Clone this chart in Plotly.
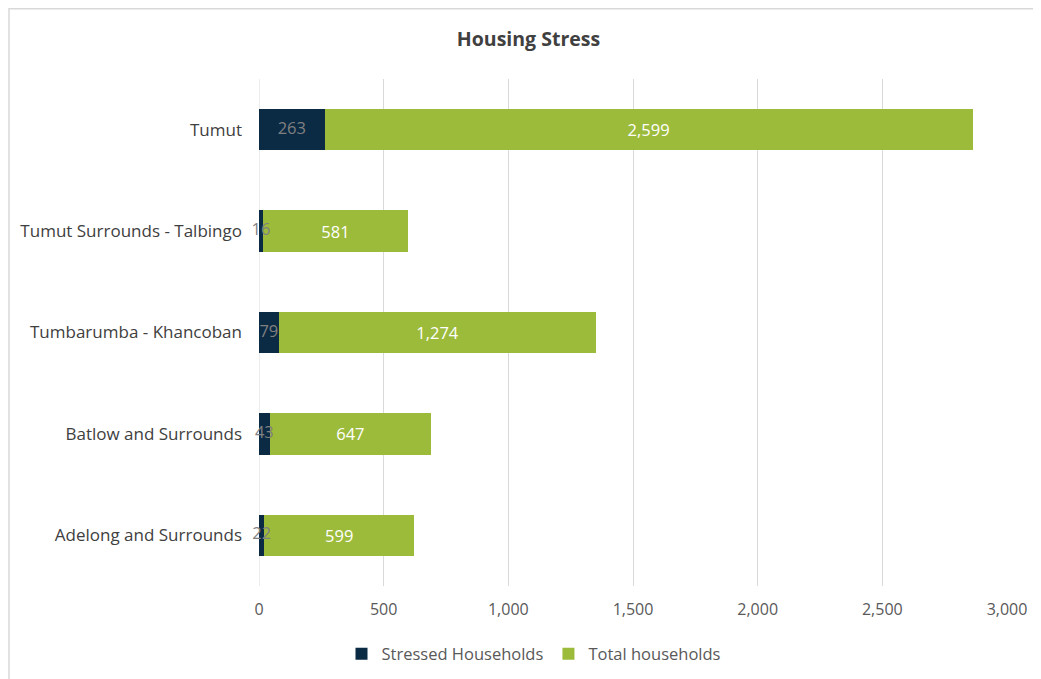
import plotly.graph_objects as go

# Data
areas = ["Tumut", "Tumut Surrounds - Talbingo", "Tumbarumba - Khancoban",
         "Batlow and Surrounds", "Adelong and Surrounds"]
stressed = [263, 16, 79, 43, 22]
total = [2599, 581, 1274, 647, 599]
x_ticks = [0, 500, 1000, 1500, 2000, 2500, 3000]

navy = "#0b2a44"
green = "#9cbb3b"
font = "Open Sans"

fig = go.Figure()
fig.add_trace(go.Bar(
    y=areas, x=stressed, orientation="h", name="Stressed Households",
    marker=dict(color=navy, line=dict(width=0)),
))
fig.add_trace(go.Bar(
    y=areas, x=total, orientation="h", name="Total households",
    marker=dict(color=green, line=dict(width=0)),
    text=[f"{v:,}" for v in total], textposition="inside",
    insidetextanchor="middle", textfont=dict(color="white", size=16.5, family=font),
))
# labels for the stressed segment, centred on the segment and allowed to overflow
fig.add_trace(go.Scatter(
    y=areas, x=[v / 2 for v in stressed], mode="text",
    text=[f"{v:,}" for v in stressed], textposition="middle center",
    textfont=dict(color="#808080", size=16.5, family=font),
    showlegend=False, hoverinfo="skip", cliponaxis=False,
))

# the page body adds an 8px offset, margins below allow for it
fig.update_layout(
    barmode="stack", bargap=0.59,
    width=1041, height=679,
    margin=dict(l=251, r=42, t=71, b=101),
    paper_bgcolor="white", plot_bgcolor="white",
    font=dict(family=font, color="#595959", size=16),
    title=dict(text="<b>Housing Stress</b>", x=0.5, xanchor="center",
               y=0.954, yanchor="middle",
               font=dict(size=19.5, color="#404040", family=font)),
    legend=dict(orientation="h", x=(534 - 259) / 748, xanchor="center", y=-0.134,
                yanchor="middle", font=dict(size=16.5, color="#595959"),
                traceorder="normal", itemwidth=30),
    xaxis=dict(range=[0, 3000], tickvals=x_ticks, tickformat=",",
               showgrid=True, gridcolor="#d9d9d9", gridwidth=1,
               zeroline=False, showline=False, ticks="", ticklabelstandoff=12,
               tickfont=dict(size=16, color="#595959")),
    yaxis=dict(categoryorder="array", categoryarray=areas, autorange="reversed",
               showgrid=False, zeroline=False, showline=False, ticks="",
               ticklabelstandoff=16, tickfont=dict(size=17, color="#404040")),
    shapes=[dict(type="rect", xref="paper", yref="paper",
                 x0=(9 - 259) / 748, x1=(1060 - 259) / 748,
                 y0=-(700 - 586) / 506, y1=1 + (79 - 9) / 506,
                 line=dict(color="#d9d9d9", width=1.5), fillcolor="rgba(0,0,0,0)",
                 layer="below"),
            dict(type="line", xref="x", yref="paper", x0=0, x1=0, y0=0, y1=1,
                 line=dict(color="#d9d9d9", width=1), layer="below")],
)

fig.write_html("out.html")
